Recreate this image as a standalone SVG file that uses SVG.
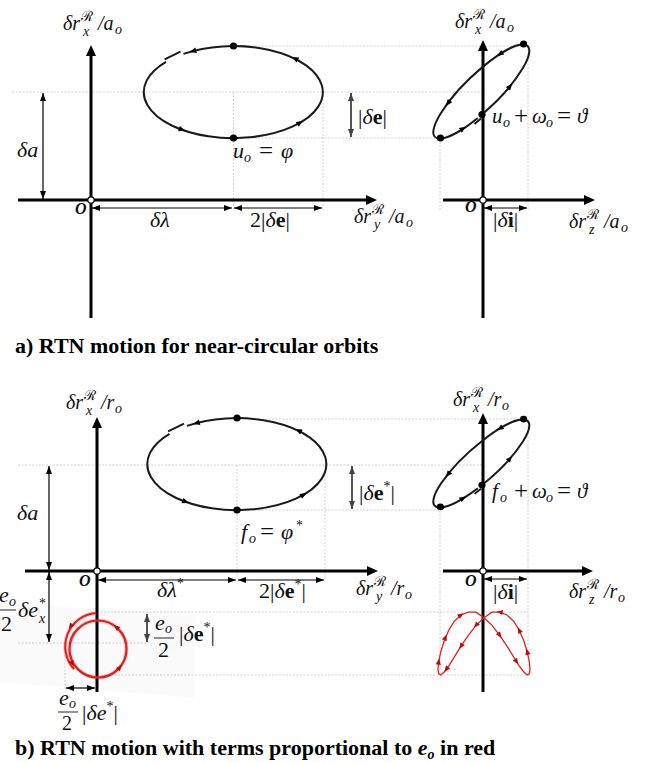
<svg xmlns="http://www.w3.org/2000/svg" xmlns:xlink="http://www.w3.org/1999/xlink" width="647" height="763" viewBox="0 0 647 763">
<style>
.axl{stroke:#000;stroke-width:3;fill:none}
.orb{stroke:#1a1a1a;stroke-width:2;fill:none}
.gd{stroke:#c4c4c4;stroke-width:0.8;stroke-dasharray:2 1.5;fill:none}
.dim{stroke:#000;stroke-width:1.2;fill:none;marker-start:url(#ah);marker-end:url(#ah)}
.dimg{stroke:#555;stroke-width:2;fill:none;marker-start:url(#ahg);marker-end:url(#ahg)}
.m{font-family:"Liberation Serif","Times New Roman",serif;font-size:22px;fill:#111}
.ax{font-family:"Liberation Serif","Times New Roman",serif;font-size:20px;font-style:italic;fill:#111}
.it{font-style:italic}
.up{font-style:normal}
.bf{font-weight:bold;font-style:normal}
.ss{font-size:14px}
.eq{font-size:25px;font-style:normal}
.sc{font-family:"DejaVu Serif",serif;font-style:normal;font-size:14px}
.o{font-family:"Liberation Serif",serif;font-style:italic;font-weight:bold;font-size:16px;fill:#111}
.cap{font-family:"Liberation Serif","Times New Roman",serif;font-weight:bold;font-size:22px;fill:#000}
.red{stroke:#dd2222;fill:none}
</style>
<defs>
<marker id="ah" viewBox="0 0 8 6" refX="8" refY="3" markerWidth="8" markerHeight="6" orient="auto-start-reverse" markerUnits="userSpaceOnUse"><path d="M0,0 L8,3 L0,6 Z" fill="#000"/></marker>
<marker id="ahg" viewBox="0 0 8 6" refX="8" refY="3" markerWidth="8" markerHeight="6" orient="auto-start-reverse" markerUnits="userSpaceOnUse"><path d="M0,0 L8,3 L0,6 Z" fill="#444"/></marker>
<marker id="axh" viewBox="0 0 11 10" refX="1" refY="5" markerWidth="11" markerHeight="10" orient="auto" markerUnits="userSpaceOnUse"><path d="M0,0 L11,5 L0,10 Z" fill="#000"/></marker>
<path id="tri" d="M3.5,0 L-3.2,-2.8 L-3.2,2.8 Z"/>
<path id="rtri" d="M3.2,0 L-3,-2.6 L-3,2.6 Z" fill="#b01010"/>
<g id="orbA">
<path class="orb" d="M183.5,53.9 A89.5 46 0 1 1 166,61.8"/>
<path class="orb" d="M164.6,59.4 L180.5,51.6"/>
<use href="#tri" transform="translate(193 51) rotate(165.4)"/>
<use href="#tri" transform="translate(295 58.6) rotate(-154)"/>
<use href="#tri" transform="translate(182 129.6) rotate(19.9)"/>
<use href="#tri" transform="translate(300 122.8) rotate(-29.7)"/>
<circle cx="233.5" cy="46" r="3.6"/>
<circle cx="233.5" cy="138" r="3.6"/>
</g>
<g id="orbB">
<path class="orb" d="M482,114.5 A64.9 17.4 -44.3 1 0 477.8,118"/>
<path class="orb" d="M474.5,124 L481,118.6"/>
<use href="#tri" transform="translate(500 54) rotate(147)"/>
<use href="#tri" transform="translate(448 103.2) rotate(126.7)"/>
<use href="#tri" transform="translate(463 128.7) rotate(-32.5)"/>
<use href="#tri" transform="translate(510 86.3) rotate(-50.2)"/>
<circle cx="523.6" cy="44" r="3.6"/>
<circle cx="440.4" cy="138" r="3.6"/>
<circle cx="482" cy="114.5" r="3.6"/>
</g>
</defs>
<rect width="647" height="763" fill="#fff"/>
<polygon points="0,604 196,614 194,698 0,682" fill="#fafafa"/>

<g id="guides" class="gd">
<path d="M233.5,46 H528 M12,92 H482 M233.5,138 H440 M233.5,92 V210 M323,92 V210 M440,138 V210 M528,46 V210"/>
<path d="M237,419 H528 M18,465 H483 M237,510 H440 M237,465 V582 M325,465 V582 M440,507 V675 M528,419 V675"/>
<path d="M97,612 H528 M97,675 H530 M18,643 H147 M65,645 V690"/>
</g>

<g id="connectors">
<line class="axl" x1="18" y1="200" x2="367" y2="200" marker-end="url(#axh)"/>
<line class="axl" x1="91" y1="318" x2="91" y2="55" marker-end="url(#axh)"/>
<line class="axl" x1="443" y1="200" x2="585" y2="200" marker-end="url(#axh)"/>
<line class="axl" x1="483" y1="318" x2="483" y2="50" marker-end="url(#axh)"/>
<line class="axl" x1="25" y1="571" x2="368" y2="571" marker-end="url(#axh)"/>
<line class="axl" x1="97" y1="692" x2="97" y2="427" marker-end="url(#axh)"/>
<line class="axl" x1="443" y1="571" x2="583" y2="571" marker-end="url(#axh)"/>
<line class="axl" x1="483" y1="692" x2="483" y2="423" marker-end="url(#axh)"/>
<line class="dim" x1="43" y1="93" x2="43" y2="199"/>
<line class="dimg" x1="351" y1="93" x2="351" y2="137"/>
<line class="dim" x1="92" y1="208" x2="232" y2="208"/>
<line class="dim" x1="234" y1="208" x2="322" y2="208"/>
<line class="dim" x1="484" y1="208" x2="527" y2="208"/>
<line class="dim" x1="49" y1="466" x2="49" y2="570"/>
<line class="dim" x1="49" y1="572" x2="49" y2="642"/>
<line class="dimg" x1="352" y1="466" x2="352" y2="509"/>
<line class="dim" x1="98" y1="580" x2="236" y2="580"/>
<line class="dim" x1="238" y1="580" x2="324" y2="580"/>
<line class="dim" x1="484" y1="579" x2="527" y2="579"/>
<line class="dimg" x1="147" y1="614" x2="147" y2="642"/>
<line class="dim" x1="66" y1="688" x2="95" y2="688"/>
</g>

<g id="orbit-a-inplane"><use href="#orbA"/></g>
<g id="orbit-a-crosstrack"><use href="#orbB"/></g>
<g id="orbit-b-inplane"><use href="#orbA" transform="translate(3.5 372)"/></g>
<g id="orbit-b-crosstrack"><use href="#orbB" transform="translate(0 463) scale(1 0.936) translate(0 -91)"/></g>

<g id="origins" fill="#fff" stroke="#000" stroke-width="1.2">
<circle cx="91" cy="200" r="3.2"/>
<circle cx="483" cy="200" r="3.2"/>
<circle cx="97" cy="571" r="3.2"/>
<circle cx="483" cy="571" r="3.2"/>
</g>

<g id="red-inplane">
<circle class="red" cx="98" cy="649" r="28.5" stroke-width="4" opacity="0.25"/>
<circle class="red" cx="98" cy="649" r="28.5" stroke-width="2.2"/>
<path class="red" d="M96,613 A33.5 33.5 0 0 0 74,669" stroke-width="4" opacity="0.25"/>
<path class="red" d="M96,613 A33.5 33.5 0 0 0 74,669" stroke-width="2"/>
<use href="#rtri" transform="translate(70.5 626.5) rotate(125)"/>
<use href="#rtri" transform="translate(72.5 663.5) rotate(60)"/>
<use href="#rtri" transform="translate(116.3 627) rotate(-140)"/>
<use href="#rtri" transform="translate(119.8 667.4) rotate(-50)"/>
</g>

<g id="red-crosstrack">
<path class="red" stroke-width="1.3" stroke-linejoin="round" d="M484,617.7 L492,625.4 L499.7,635.3 L507,646.2 L513.6,656.8 L519.2,665.8 L523.8,672 L527.2,674.9 L529.3,673.9 L530,669.3 L529.3,661.6 L527.2,651.7 L523.8,640.8 L519.2,630.2 L513.6,621.2 L507,615 L499.7,612.1 L492,612.1 L484,617.7 L476,625.4 L468.3,635.3 L461,646.2 L454.4,656.8 L448.8,665.8 L444.2,672 L440.8,674.9 L438.7,673.9 L438,669.3 L438.7,661.6 L440.8,651.7 L444.2,640.8 L448.8,630.2 L454.4,621.2 L461,615 L468.3,612.1 L476,612.1 Z"/>
<use href="#rtri" transform="translate(499.7 635.3) rotate(54.6)"/>
<use href="#rtri" transform="translate(516.5 661.6) rotate(57.8)"/>
<use href="#rtri" transform="translate(527.2 651.7) rotate(-104.5)"/>
<use href="#rtri" transform="translate(519.2 630.2) rotate(-117.4)"/>
<use href="#rtri" transform="translate(499.7 612.1) rotate(-172.7)"/>
<use href="#rtri" transform="translate(476 625.4) rotate(131.3)"/>
<use href="#rtri" transform="translate(461 646.2) rotate(122.4)"/>
<use href="#rtri" transform="translate(446.3 669.3) rotate(126.2)"/>
<use href="#rtri" transform="translate(438.7 661.6) rotate(-81.2)"/>
<use href="#rtri" transform="translate(445.4 637.5) rotate(-67.9)"/>
<use href="#rtri" transform="translate(461 615) rotate(-33.8)"/>
</g>

<g id="label-axes-a">
<text class="ax"><tspan x="63" y="30">δr</tspan><tspan class="sc" x="81" y="21">ℛ</tspan><tspan class="ss" x="83" y="36">x</tspan><tspan x="98" y="30">/a</tspan><tspan class="ss" x="115" y="34">o</tspan></text>
<text class="ax"><tspan x="354" y="223">δr</tspan><tspan class="sc" x="372" y="214">ℛ</tspan><tspan class="ss" x="374" y="229">y</tspan><tspan x="389" y="223">/a</tspan><tspan class="ss" x="406" y="227">o</tspan></text>
<text class="ax"><tspan x="455" y="28">δr</tspan><tspan class="sc" x="473" y="19">ℛ</tspan><tspan class="ss" x="475" y="34">x</tspan><tspan x="490" y="28">/a</tspan><tspan class="ss" x="507" y="32">o</tspan></text>
<text class="ax"><tspan x="569" y="228">δr</tspan><tspan class="sc" x="587" y="219">ℛ</tspan><tspan class="ss" x="589" y="234">z</tspan><tspan x="604" y="228">/a</tspan><tspan class="ss" x="621" y="232">o</tspan></text>
<text class="o" x="75" y="214">O</text>
<text class="o" x="465" y="212">O</text>
</g>
<g id="label-dims-a">
<text class="m it" x="17" y="157">δa</text>
<text class="m" x="358" y="124">|<tspan class="it">δ</tspan><tspan class="bf">e</tspan>|</text>
<text class="m it" x="150" y="227">δλ</text>
<text class="m" x="250" y="227">2|<tspan class="it">δ</tspan><tspan class="bf">e</tspan>|</text>
<text class="m it"><tspan x="233" y="158">u</tspan><tspan class="ss" x="244" y="162">o</tspan><tspan class="eq" x="259" y="159">=</tspan><tspan x="281" y="158">φ</tspan></text>
<text class="m it" style="font-size:21px"><tspan x="492" y="123">u</tspan><tspan class="ss" x="503" y="127">o</tspan><tspan class="eq" x="514" y="124">+</tspan><tspan x="532" y="123">ω</tspan><tspan class="ss" x="546" y="127">o</tspan><tspan class="eq" x="557" y="124">=</tspan><tspan x="577" y="123">ϑ</tspan></text>
<text class="m" x="493" y="227">|<tspan class="it">δ</tspan><tspan class="bf">i</tspan>|</text>
</g>

<g id="label-axes-b">
<text class="ax"><tspan x="66" y="409">δr</tspan><tspan class="sc" x="84" y="400">ℛ</tspan><tspan class="ss" x="86" y="415">x</tspan><tspan x="101" y="409">/r</tspan><tspan class="ss" x="115" y="413">o</tspan></text>
<text class="ax"><tspan x="356" y="595">δr</tspan><tspan class="sc" x="374" y="586">ℛ</tspan><tspan class="ss" x="376" y="601">y</tspan><tspan x="391" y="595">/r</tspan><tspan class="ss" x="405" y="599">o</tspan></text>
<text class="ax"><tspan x="453" y="406">δr</tspan><tspan class="sc" x="471" y="397">ℛ</tspan><tspan class="ss" x="473" y="412">x</tspan><tspan x="488" y="406">/r</tspan><tspan class="ss" x="502" y="410">o</tspan></text>
<text class="ax"><tspan x="569" y="598">δr</tspan><tspan class="sc" x="587" y="589">ℛ</tspan><tspan class="ss" x="589" y="604">z</tspan><tspan x="604" y="598">/r</tspan><tspan class="ss" x="618" y="602">o</tspan></text>
<text class="o" x="79" y="586">O</text>
<text class="o" x="465" y="586">O</text>
</g>
<g id="label-dims-b">
<text class="m it" x="17" y="520">δa</text>
<text class="m" x="359" y="500">|<tspan class="it">δ</tspan><tspan class="bf">e</tspan><tspan class="ss up" dy="-9">*</tspan><tspan dy="9">|</tspan></text>
<text class="m it"><tspan x="241" y="539">f</tspan><tspan class="ss" x="249" y="543">o</tspan><tspan class="eq" x="260" y="540">=</tspan><tspan x="281" y="539">φ</tspan><tspan class="ss up" x="296" y="530">*</tspan></text>
<text class="m it" x="157" y="597">δλ<tspan class="ss up" dy="-9">*</tspan></text>
<text class="m" x="259" y="598">2|<tspan class="it">δ</tspan><tspan class="bf">e</tspan><tspan class="ss up" dy="-9">*</tspan><tspan dy="9">|</tspan></text>
<text class="m it" style="font-size:21px"><tspan x="492" y="498">f</tspan><tspan class="ss" x="500" y="502">o</tspan><tspan class="eq" x="514" y="499">+</tspan><tspan x="532" y="498">ω</tspan><tspan class="ss" x="546" y="502">o</tspan><tspan class="eq" x="557" y="499">=</tspan><tspan x="577" y="498">ϑ</tspan></text>
<text class="m" x="493" y="599">|<tspan class="it">δ</tspan><tspan class="bf">i</tspan>|</text>
</g>

<g id="label-red">
<text class="m it"><tspan x="-1" y="602">e</tspan><tspan class="ss" x="9" y="606">o</tspan></text>
<text class="m up" x="1" y="631">2</text>
<text class="m it"><tspan x="18" y="617">δe</tspan><tspan class="ss up" x="39" y="608">*</tspan><tspan class="ss" x="39" y="623">x</tspan></text>
<line x1="-2" y1="610" x2="16" y2="610" stroke="#111" stroke-width="0.9"/>
<text class="m it"><tspan x="155" y="630">e</tspan><tspan class="ss" x="165" y="633">o</tspan></text>
<text class="m up" x="158" y="657">2</text>
<line x1="154" y1="638" x2="174" y2="638" stroke="#111" stroke-width="0.9"/>
<text class="m" x="179" y="641">|<tspan class="it">δ</tspan><tspan class="bf">e</tspan><tspan class="ss up" dy="-9">*</tspan><tspan dy="9">|</tspan></text>
<text class="m it"><tspan x="59" y="705">e</tspan><tspan class="ss" x="69" y="708">o</tspan></text>
<text class="m up" x="62" y="730" style="font-size:20px">2</text>
<line x1="58" y1="712" x2="78" y2="712" stroke="#111" stroke-width="0.9"/>
<text class="m" x="82" y="720">|<tspan class="it">δe</tspan><tspan class="ss up" dy="-9">*</tspan><tspan dy="9">|</tspan></text>
</g>

<g id="captions">
<text class="cap" x="15" y="353">a) RTN motion for near-circular orbits</text>
<text class="cap" x="15" y="755">b) RTN motion with terms proportional to <tspan font-style="italic">e</tspan><tspan font-style="italic" font-size="14px" dy="4">o</tspan><tspan dy="-4"> in red</tspan></text>
</g>
</svg>
